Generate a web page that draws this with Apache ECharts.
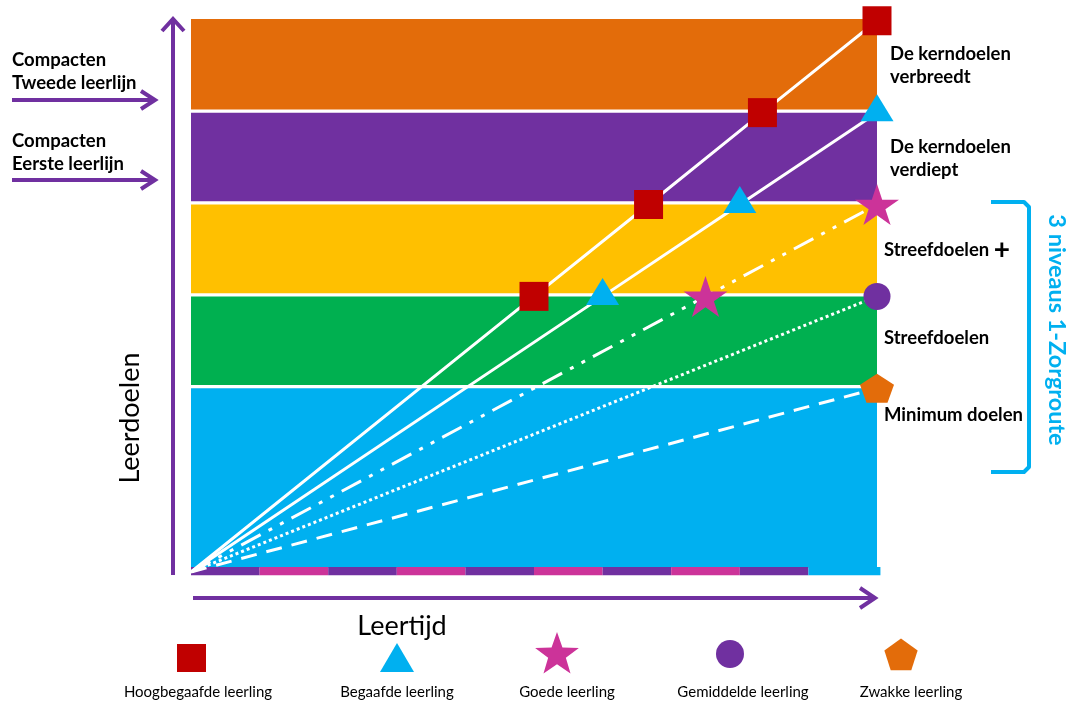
<!DOCTYPE html>
<html><head><meta charset="utf-8">
<script src="https://cdn.jsdelivr.net/npm/echarts@6/dist/echarts.min.js"></script>
<style>html,body{margin:0;padding:0;background:#fff}#c{width:1072px;height:702px}</style>
</head><body><div id="c"></div>
<script>
// ---- data ----
const bandLabels = ['Minimum doelen', 'Streefdoelen', 'Streefdoelen', 'De kerndoelen\nverdiept', 'De kerndoelen\nverbreedt'];
const bandFrom = [0.05, 2.035, 3.035, 4.035, 5.035];
const bandTo = [2, 3, 4, 5, 6.02];
const bandColors = ['#00b0f0', '#00b050', '#ffc000', '#7030a0', '#e36c0a'];

const stripStart = [0, 1, 2, 3, 4, 5, 6, 7, 8, 9];
const stripEnd = [1, 2, 3, 4, 5, 6, 7, 8, 9, 10.05];
const stripColors = ['#7030a0', '#cc3399', '#7030a0', '#cc3399', '#7030a0', '#cc3399', '#7030a0', '#cc3399', '#7030a0', '#00b0f0'];

const students = ['Hoogbegaafde leerling', 'Begaafde leerling', 'Goede leerling', 'Gemiddelde leerling', 'Zwakke leerling'];
const studentColors = ['#c00000', '#00b0f0', '#cc3399', '#7030a0', '#e36c0a'];
const hoogPoints = [[0, 0], [5, 3], [6.67, 4], [8.33, 5], [10, 6]];
const begaafdPoints = [[0, 0], [6, 3], [8, 4], [10, 5]];
const goedPoints = [[0, 0], [7.5, 3], [10, 4]];
const gemiddeldPoints = [[0, 0], [10, 3]];
const zwakPoints = [[0, 0], [10, 2]];
const studentPoints = [hoogPoints, begaafdPoints, goedPoints, gemiddeldPoints, zwakPoints];

// ---- styles ----
const STAR = 'path://M100,0L122.45,69.1L195.1,69.1L136.3,111.8L158.8,180.9L100,138.2L41.2,180.9L63.7,111.8L4.9,69.1L77.55,69.1Z';
const PENTA = 'path://M100,0L195.1,69.1L158.8,180.9L41.2,180.9L4.9,69.1Z';
const symbols = ['rect', 'triangle', STAR, 'circle', PENTA];
const symbolSizes = [[29, 29], [33, 27], [44, 41], [27, 27], [34, 29]];
const symbolOffsets = [[0, 0], [0, -5], [0, 0], [0, 0], [0, 0]];
const lineTypes = ['solid', 'solid', [22, 9, 4, 9, 4, 9], [3, 3], [16, 10]];
const PURPLE = '#7030a0';
const FONT = 'Lato';

const chart = echarts.init(document.getElementById('c'), null, {renderer: 'canvas'});

const bandData = bandFrom.map((f, i) => [0, 10, f, bandTo[i], i]);
const stripData = stripStart.map((s, i) => [s, stripEnd[i], -0.035, 0.054, i]);

function rectItem(colors) {
  return function (params, api) {
    const a = api.coord([api.value(0), api.value(3)]);
    const b = api.coord([api.value(1), api.value(2)]);
    return {
      type: 'rect',
      shape: {x: a[0], y: a[1], width: b[0] - a[0], height: b[1] - a[1]},
      style: {fill: colors[api.value(4)]}
    };
  };
}

const series = [
  {type: 'custom', renderItem: rectItem(bandColors), data: bandData, z: 1, silent: true, clip: false},
  {type: 'custom', renderItem: rectItem(stripColors), data: stripData, z: 1, silent: true, clip: false}
];

students.forEach((name, i) => {
  series.push({
    type: 'line',
    name: name,
    z: 5 + (4 - i),
    data: studentPoints[i].map((p, k) => k === 0 ? {value: p, symbol: 'none'} : {value: p}),
    symbol: symbols[i],
    symbolSize: symbolSizes[i],
    symbolOffset: symbolOffsets[i],
    showAllSymbol: true,
    itemStyle: {color: studentColors[i], borderWidth: 0},
    lineStyle: {color: '#ffffff', width: 3, type: lineTypes[i]},
    animation: false
  });
});

// graphics
const g = [];
function arrow(points, head) {
  g.push({type: 'polyline', shape: {points: points}, style: {stroke: PURPLE, lineWidth: 4, fill: null}, z: 10});
  g.push({type: 'polyline', shape: {points: head}, style: {stroke: PURPLE, lineWidth: 4, fill: null}, z: 10});
}
arrow([[173, 575], [173, 21]], [[162, 31], [173, 19], [184, 31]]);
arrow([[193, 598], [874, 598]], [[860, 588], [875, 598], [860, 608]]);
arrow([[12, 100], [155, 100]], [[141, 91], [155, 100], [141, 109]]);
arrow([[12, 180], [155, 180]], [[141, 171], [155, 180], [141, 189]]);

function txt(text, x, y, opts) {
  g.push({type: 'text', x: x, y: y, z: 12,
    style: Object.assign({text: text, fontFamily: FONT, fill: '#000', fontSize: 18.5, fontWeight: 'bold', textVerticalAlign: 'middle', lineHeight: 23}, opts || {})});
}
txt('Compacten\nTweede leerlijn', 12, 72);
txt('Compacten\nEerste leerlijn', 12, 153);

txt(bandLabels[4], 890, 66);
txt(bandLabels[3], 890, 159);
g.push({type: 'text', x: 884, y: 250, z: 12, style: {
  text: bandLabels[2] + ' {p|+}', fontFamily: FONT, fill: '#000', fontSize: 18.5, fontWeight: 'bold', textVerticalAlign: 'middle',
  rich: {p: {fontSize: 28, fontWeight: 'bold', fontFamily: FONT, fill: '#000'}}
}});
txt(bandLabels[1], 884, 338);
txt(bandLabels[0], 884, 415);

// axis titles
g.push({type: 'text', x: 130, y: 418, rotation: Math.PI / 2, z: 12, style: {
  text: 'Leerdoelen', fontFamily: FONT, fontSize: 27, fill: '#000', textAlign: 'center', textVerticalAlign: 'middle'}});
g.push({type: 'text', x: 402, y: 626, z: 12, style: {
  text: 'Leertijd', fontFamily: FONT, fontSize: 27, fill: '#000', textAlign: 'center', textVerticalAlign: 'middle'}});

// bracket
g.push({type: 'polyline', z: 11, shape: {points: [[991, 202], [1024, 202], [1029, 207], [1029, 467], [1024, 472], [991, 472]]},
  style: {stroke: '#00b0f0', lineWidth: 4, fill: null, lineJoin: 'round'}});
g.push({type: 'text', x: 1057, y: 330, rotation: -Math.PI / 2, z: 12, style: {
  text: '3 niveaus 1-Zorgroute', fontFamily: FONT, fontSize: 23.5, fontWeight: 'bold', fill: '#00b0f0', textAlign: 'center', textVerticalAlign: 'middle'}});

// legend
const legLabelX = [198, 397, 567, 743, 911];
g.push({type: 'rect', z: 12, shape: {x: 177, y: 644, width: 29, height: 28}, style: {fill: studentColors[0]}});
g.push({type: 'polygon', z: 12, shape: {points: [[397, 643], [414, 672], [380, 672]]}, style: {fill: studentColors[1]}});
(function () {
  const cx = 557, cy = 654, R = 23, r = 9.3; const pts = [];
  for (let k = 0; k < 10; k++) {
    const a = -Math.PI / 2 + k * Math.PI / 5; const rr = k % 2 ? r : R;
    pts.push([cx + rr * Math.cos(a), cy + 1 + rr * Math.sin(a)]);
  }
  g.push({type: 'polygon', z: 12, shape: {points: pts}, style: {fill: studentColors[2]}});
})();
g.push({type: 'circle', z: 12, shape: {cx: 730, cy: 654, r: 14}, style: {fill: studentColors[3]}});
(function () {
  const cx = 901, cy = 656, R = 17.5; const pts = [];
  for (let k = 0; k < 5; k++) {
    const a = -Math.PI / 2 + k * 2 * Math.PI / 5;
    pts.push([cx + R * Math.cos(a), cy + R * Math.sin(a)]);
  }
  g.push({type: 'polygon', z: 12, shape: {points: pts}, style: {fill: studentColors[4]}});
})();
students.forEach((s, i) => {
  g.push({type: 'text', x: legLabelX[i], y: 692, z: 12, style: {
    text: s, fontFamily: FONT, fontSize: 15, fill: '#000', textAlign: 'center', textVerticalAlign: 'middle'}});
});

chart.setOption({
  animation: false,
  grid: {left: 191, right: 195, top: 18, bottom: 130},
  xAxis: {type: 'value', min: 0, max: 10, show: false},
  yAxis: {type: 'value', min: 0, max: 6.03, show: false},
  series: series,
  graphic: g
});
</script>
</body></html>
